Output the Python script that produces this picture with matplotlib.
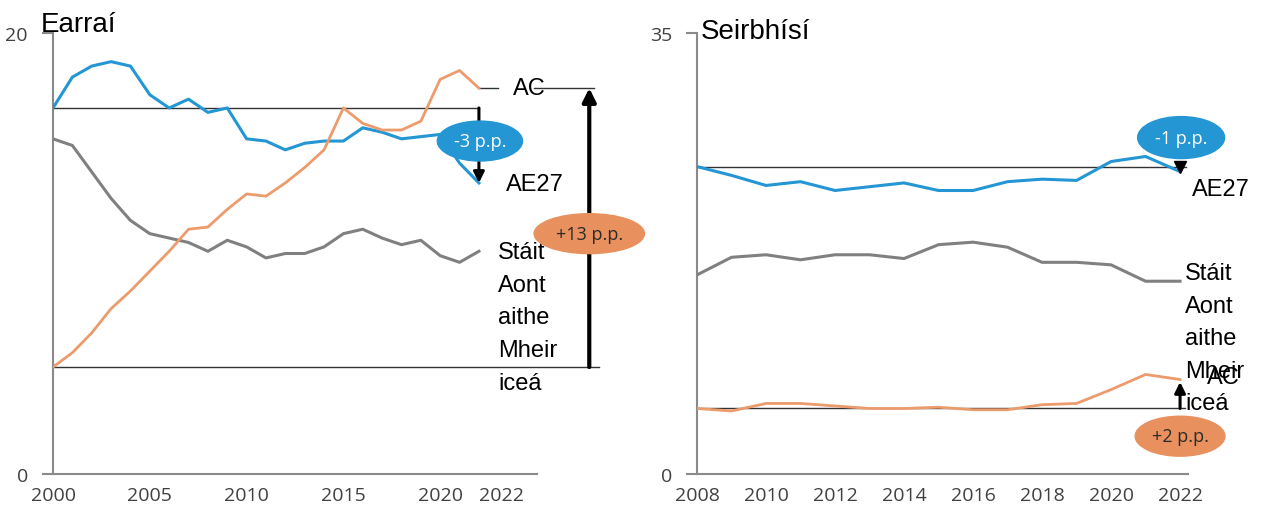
import matplotlib.pyplot as plt
from matplotlib.patches import Ellipse
from matplotlib.transforms import ScaledTranslation

# Earrai (goods), 2000-2022
years_g = list(range(2000, 2023))
eu_g = [16.6, 18.0, 18.5, 18.7, 18.5, 17.2, 16.6, 17.0, 16.4, 16.6, 15.2, 15.1,
        14.7, 15.0, 15.1, 15.1, 15.7, 15.5, 15.2, 15.3, 15.4, 14.1, 13.2]
us_g = [15.2, 14.9, 13.7, 12.5, 11.5, 10.9, 10.7, 10.5, 10.1, 10.6, 10.3, 9.8,
        10.0, 10.0, 10.3, 10.9, 11.1, 10.7, 10.4, 10.6, 9.9, 9.6, 10.1]
cn_g = [4.85, 5.5, 6.4, 7.5, 8.3, 9.2, 10.1, 11.1, 11.2, 12.0, 12.7, 12.6,
        13.2, 13.9, 14.7, 16.6, 15.9, 15.6, 15.6, 16.0, 17.9, 18.3, 17.5]

# Seirbhisi (services), 2008-2022
years_s = list(range(2008, 2023))
eu_s = [24.4, 23.7, 22.9, 23.2, 22.5, 22.8, 23.1, 22.5, 22.5, 23.2, 23.4, 23.3, 24.8, 25.2, 24.0]
us_s = [15.8, 17.2, 17.4, 17.0, 17.4, 17.4, 17.1, 18.2, 18.4, 18.0, 16.8, 16.8, 16.6, 15.3, 15.3]
cn_s = [5.2, 5.0, 5.6, 5.6, 5.4, 5.2, 5.2, 5.3, 5.1, 5.1, 5.5, 5.6, 6.7, 7.9, 7.5]

xt_g = [2000, 2005, 2010, 2015, 2020, 2022]
xt_s = list(range(2008, 2023, 2))
us_label = "Stáit\nAont\naithe\nMheir\niceá"

BLUE = "#2496d3"
ORANGE = "#ec9b6c"
ORANGE_E = "#e8915e"
GRAY = "#808080"
LBL = "Liberation Sans"

fig = plt.figure(figsize=(12.69, 5.1), dpi=100)
ax1 = fig.add_axes([53/1269, 35/510, 484/1269, 441/510])
ax2 = fig.add_axes([697/1269, 35/510, 491/1269, 441/510])


def style(ax, ymax, xt, xlim):
    ax.set_xlim(*xlim)
    ax.set_ylim(0, ymax)
    for s in ["top", "right"]:
        ax.spines[s].set_visible(False)
    for s in ["left", "bottom"]:
        ax.spines[s].set_color("#8a8a8a")
        ax.spines[s].set_linewidth(1.5)
    ax.set_yticks([0, ymax])
    ax.set_xticks(xt)
    ax.tick_params(axis="y", length=8, width=1.5, color="#8a8a8a", pad=10,
                   labelsize=14, labelcolor="#404040")
    ax.tick_params(axis="x", length=0, pad=9, labelsize=14, labelcolor="#404040")
    for t in ax.get_xticklabels() + ax.get_yticklabels():
        t.set_family("Open Sans")


def arrow(ax, x, y0, y1, lw=2.5, ms=18):
    ax.annotate("", xy=(x, y1), xytext=(x, y0),
                arrowprops=dict(arrowstyle="-|>", color="black", lw=lw,
                                mutation_scale=ms, shrinkA=0, shrinkB=0),
                annotation_clip=False, zorder=4)


def bubble(ax, x, y, w, h, col, txt, tcol):
    ax.add_patch(Ellipse((x, y), w, h, color=col, clip_on=False, zorder=5))
    ax.text(x, y, txt, ha="center", va="center", color=tcol, fontsize=13,
            family="Open Sans", zorder=6, clip_on=False)


# ---- Earrai ----
style(ax1, 20, xt_g, (2000, 2025.0))
last = ax1.get_xticklabels()[-1]
last.set_transform(last.get_transform() + ScaledTranslation(16/72, 0, fig.dpi_scale_trans))
ax1.plot(years_g, eu_g, color=BLUE, lw=2.2, zorder=3)
ax1.plot(years_g, us_g, color=GRAY, lw=2.2, zorder=3)
ax1.plot(years_g, cn_g, color=ORANGE, lw=2.0, zorder=3)
ax1.plot([2000, 2022], [eu_g[0]] * 2, color="#333333", lw=1, clip_on=False, zorder=2)
ax1.plot([2000, 2028.2], [cn_g[0]] * 2, color="#333333", lw=1, clip_on=False, zorder=2)
ax1.plot([2022, 2022.98], [cn_g[-1]] * 2, color="#333333", lw=1, clip_on=False, zorder=2)
ax1.plot([2024.85, 2027.95], [cn_g[-1]] * 2, color="#333333", lw=1, clip_on=False, zorder=2)
arrow(ax1, 2022, eu_g[0], eu_g[-1], lw=2.2, ms=16)
arrow(ax1, 2027.7, cn_g[0], cn_g[-1], lw=3, ms=20)
bubble(ax1, 2022.05, 15.1, 4.4, 1.81, BLUE, "-3 p.p.", "white")
bubble(ax1, 2027.7, 10.9, 5.7, 1.81, ORANGE_E, "+13 p.p.", "#2a2a2a")
ax1.text(2023.76, cn_g[-1], "AC", fontsize=17, family=LBL, va="center", clip_on=False)
ax1.text(2023.4, 13.15, "AE27", fontsize=17, family=LBL, va="center", clip_on=False)
ax1.text(2022.98, 10.55, us_label, fontsize=17, family=LBL, va="top",
         linespacing=1.62, clip_on=False)
fig.text(41/1269, 1 - 32/510, "Earraí", fontsize=20, family=LBL, va="baseline")

# ---- Seirbhisi ----
style(ax2, 35, xt_s, (2008, 2022.23))
ax2.plot(years_s, eu_s, color=BLUE, lw=2.2, zorder=3)
ax2.plot(years_s, us_s, color=GRAY, lw=2.2, zorder=3)
ax2.plot(years_s, cn_s, color=ORANGE, lw=2.0, zorder=3)
ax2.plot([2008, 2022.17], [eu_s[0]] * 2, color="#333333", lw=1, clip_on=False, zorder=2)
ax2.plot([2008, 2022.14], [cn_s[0]] * 2, color="#333333", lw=1, clip_on=False, zorder=2)
ax2.plot([2022], [eu_s[0]], marker="v", color="black", ms=9, clip_on=False, zorder=4)
arrow(ax2, 2022, cn_s[0], 7.3, lw=2.2, ms=16)
bubble(ax2, 2022.03, 26.7, 2.52, 3.33, BLUE, "-1 p.p.", "white")
bubble(ax2, 2022.0, 3.0, 2.6, 3.17, ORANGE_E, "+2 p.p.", "#2a2a2a")
ax2.text(2022.35, 22.6, "AE27", fontsize=17, family=LBL, va="center", clip_on=False)
ax2.text(2022.78, 7.7, "AC", fontsize=17, family=LBL, va="center", clip_on=False)
ax2.text(2022.14, 16.8, us_label, fontsize=17, family=LBL, va="top",
         linespacing=1.62, clip_on=False)
fig.text(701/1269, 1 - 39/510, "Seirbhísí", fontsize=20, family=LBL, va="baseline")

fig.savefig("out.png", dpi=100, facecolor="white")
